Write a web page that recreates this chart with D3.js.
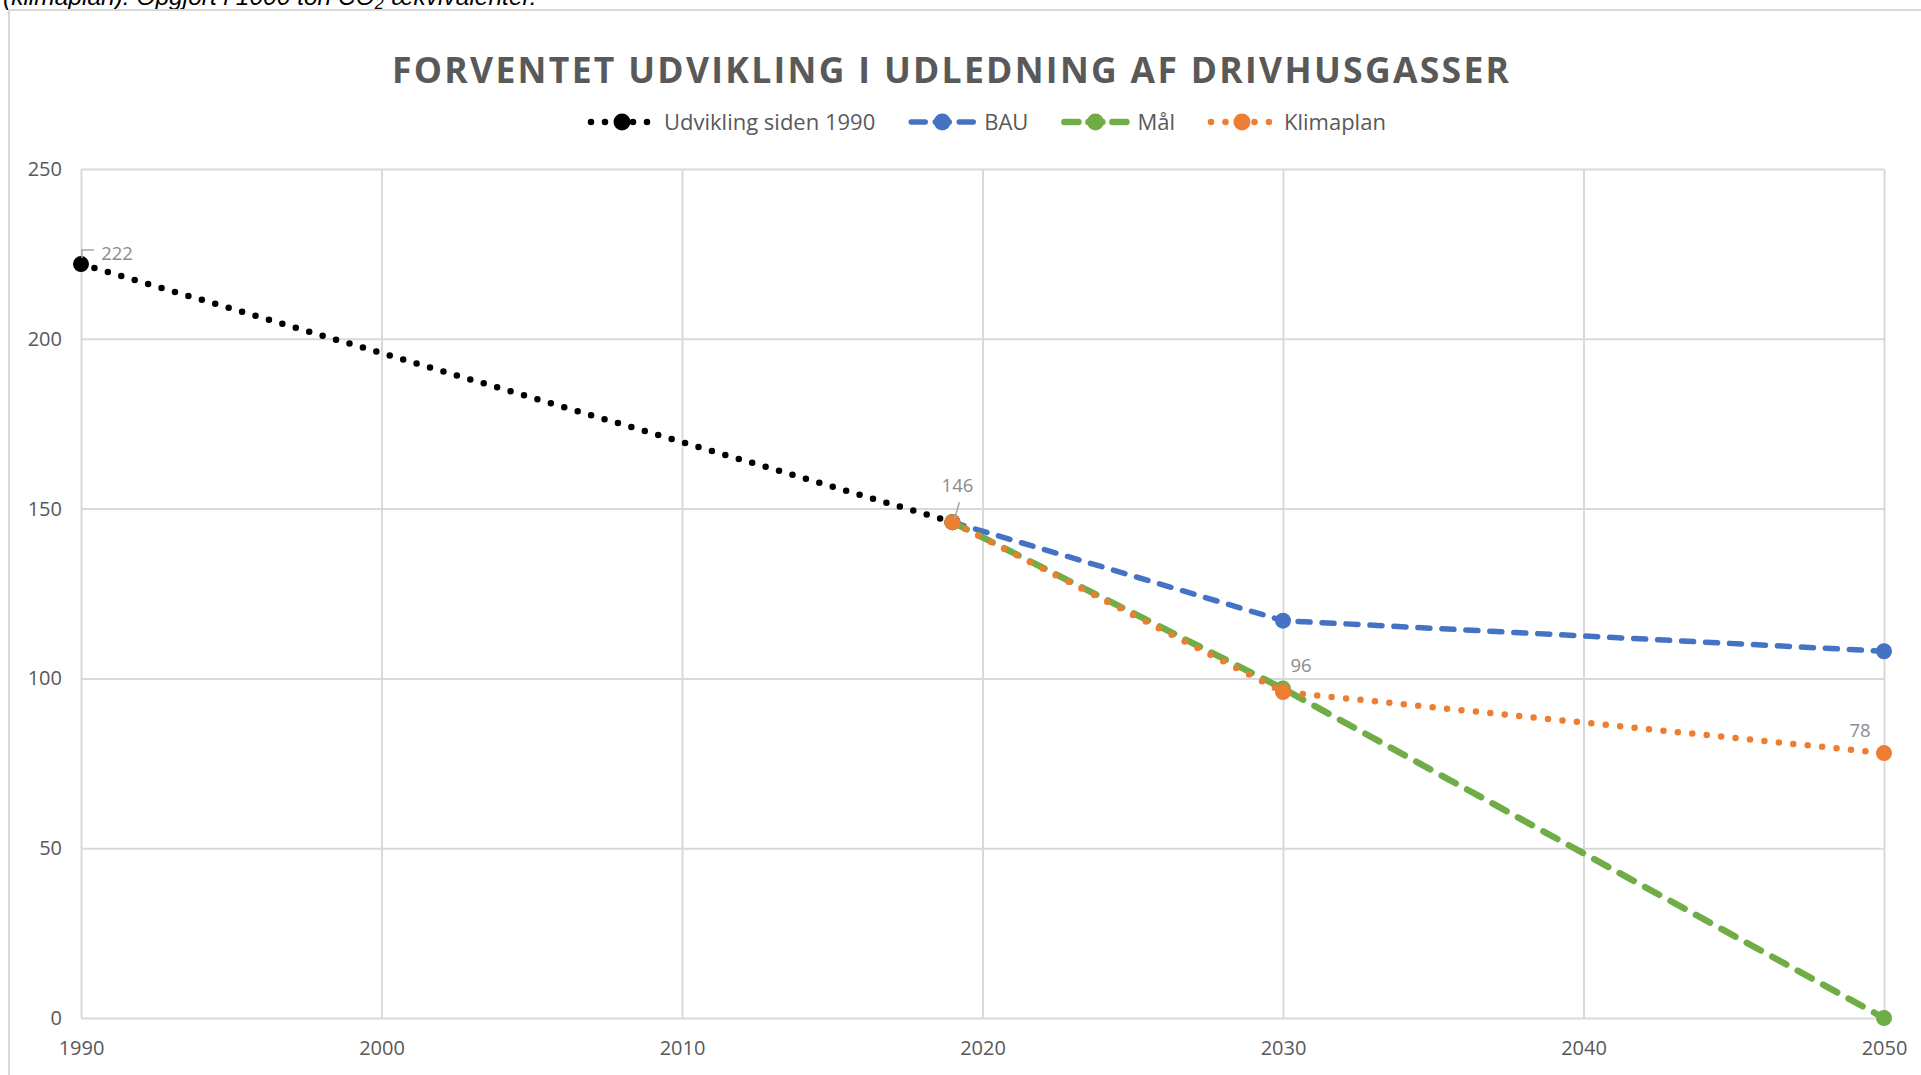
<!DOCTYPE html>
<html>
<head>
<meta charset="utf-8">
<script src="https://cdn.jsdelivr.net/npm/d3@7"></script>
<style>
    body { margin: 0; background: #ffffff; overflow: hidden; }
    svg { display: block; }
</style>
</head>
<body>
<svg id="body" width="1921" height="1075"></svg>
<script>
// Data
let seriesNames = ['Udvikling siden 1990', 'BAU', 'Mål', 'Klimaplan']

let udviklingYears = [1990, 2019]
let udviklingValues = [222, 146]

let bauYears = [2019, 2030, 2050]
let bauValues = [146, 117, 108]

let maalYears = [2019, 2030, 2050]
let maalValues = [146, 97, 0]

let klimaplanYears = [2019, 2030, 2050]
let klimaplanValues = [146, 96, 78]

let xTicks = [1990, 2000, 2010, 2020, 2030, 2040, 2050]
let yTicks = [0, 50, 100, 150, 200, 250]

let titleText = 'FORVENTET UDVIKLING I UDLEDNING AF DRIVHUSGASSER'

function drawChart(){
    let svg = d3.select('#body')

    // Load and transform data
    let series = [
        {'name': seriesNames[0], 'years': udviklingYears, 'values': udviklingValues, 'color': '#000000', 'dash': '0 14', 'width': 6.5},
        {'name': seriesNames[1], 'years': bauYears, 'values': bauValues, 'color': '#4472C4', 'dash': '12 12', 'width': 5.5},
        {'name': seriesNames[2], 'years': maalYears, 'values': maalValues, 'color': '#70AD47', 'dash': '16 13', 'width': 6.5},
        {'name': seriesNames[3], 'years': klimaplanYears, 'values': klimaplanValues, 'color': '#ED7D31', 'dash': '0 14.5', 'width': 6.5}
    ].map((s) => {return {...s, 'points': s.years.map((y, i) => {return {'year': y, 'value': s.values[i]}})}})

    // Compute layout
    let xScale = d3.scaleLinear([1990, 2050], [81, 1884])
    let yScale = d3.scaleLinear([0, 250], [1018, 169])

    // caption cut off at the top of the page + chart frame
    svg.append('text')
        .attr('x', 3).attr('y', 5)
        .attr('font-family', 'Liberation Sans, Arial, sans-serif')
        .attr('font-style', 'italic')
        .attr('font-size', 24.5)
        .attr('fill', '#000')
        .call((t) => {
            t.append('tspan').text('(klimaplan). Opgjort i 1000 ton CO')
            t.append('tspan').attr('font-size', 16).attr('dy', 4).text('2')
            t.append('tspan').attr('dy', -4).text('-ækvivalenter.')
        })

    svg.append('path')
        .attr('d', 'M9,1075 V10 H1921')
        .attr('fill', 'none')
        .attr('stroke', '#d9d9d9')
        .attr('stroke-width', 2)

    // Axes / grid
    let yAxis = d3.axisLeft(yScale).tickValues(yTicks).tickSize(-(xScale(2050) - xScale(1990))).tickPadding(19)
    let xAxis = d3.axisBottom(xScale).tickValues(xTicks).tickFormat(d3.format('d')).tickSize(-(yScale(0) - yScale(250))).tickPadding(23)

    let gy = svg.append('g').attr('transform', `translate(${xScale(1990)},0)`).call(yAxis)
    let gx = svg.append('g').attr('transform', `translate(0,${yScale(0)})`).call(xAxis)

    for (let g of [gx, gy]){
        g.select('.domain').remove()
        g.selectAll('line').attr('stroke', '#d9d9d9').attr('stroke-width', 2)
        g.selectAll('text')
            .attr('fill', '#595959')
            .attr('font-family', 'Open Sans, sans-serif')
            .attr('font-size', 20)
    }

    // Title
    svg.append('text')
        .attr('x', 392).attr('y', 83)
        .attr('textLength', 1117)
        .attr('lengthAdjust', 'spacing')
        .attr('font-family', 'Open Sans, sans-serif')
        .attr('font-weight', 'bold')
        .attr('font-size', 35.5)
        .attr('fill', '#595959')
        .text(titleText)

    // Legend
    let legendX = 588
    let legendY = 122
    series.forEach((s) => {
        let g = svg.append('g').attr('transform', `translate(${legendX},${legendY})`)
        g.append('line')
            .attr('x1', 3).attr('x2', 66)
            .attr('stroke', s.color)
            .attr('stroke-width', s.width)
            .attr('stroke-dasharray', s.dash.startsWith('0') ? s.dash : '14 10')
            .attr('stroke-linecap', 'round')
        g.append('circle').attr('cx', 34).attr('r', 8.5).attr('fill', s.color)
        let t = g.append('text')
            .attr('x', 76).attr('y', 8)
            .attr('font-family', 'Open Sans, sans-serif')
            .attr('font-size', 22)
            .attr('fill', '#595959')
            .text(s.name)
        legendX += 76 + t.node().getComputedTextLength() + 33
    })

    // Draw visualization
    let line = d3.line().x((d) => {return xScale(d.year)}).y((d) => {return yScale(d.value)})

    let seriesJoin = svg.append('g').selectAll('g').data(series).join('g')

    seriesJoin.append('path')
        .attr('d', (d) => {return line(d.points)})
        .attr('fill', 'none')
        .attr('stroke', (d) => {return d.color})
        .attr('stroke-width', (d) => {return d.width})
        .attr('stroke-dasharray', (d) => {return d.dash})
        .attr('stroke-linecap', 'round')

    seriesJoin.selectAll('circle')
        .data((d) => {return d.points.map((p) => {return {...p, 'color': d.color}})})
        .join('circle')
        .attr('cx', (d) => {return xScale(d.year)})
        .attr('cy', (d) => {return yScale(d.value)})
        .attr('r', 8)
        .attr('fill', (d) => {return d.color})

    // Data labels
    let labels = [
        {'s': 0, 'i': 0, 'dx': 36, 'dy': -11, 'leader': [[1, -6], [1, -14], [13, -14]]},
        {'s': 0, 'i': 1, 'dx': 5, 'dy': -37, 'leader': [[7, -20], [2, -3]]},
        {'s': 3, 'i': 1, 'dx': 18, 'dy': -26, 'leader': null},
        {'s': 3, 'i': 2, 'dx': -24, 'dy': -23, 'leader': null}
    ]

    labels.forEach((l) => {
        let p = series[l.s].points[l.i]
        let px = xScale(p.year)
        let py = yScale(p.value)
        if (l.leader){
            svg.append('path')
                .attr('d', d3.line()(l.leader.map((c) => {return [px + c[0], py + c[1]]})))
                .attr('fill', 'none')
                .attr('stroke', '#a6a6a6')
                .attr('stroke-width', 1.5)
        }
        svg.append('text')
            .attr('x', px + l.dx).attr('y', py + l.dy)
            .attr('dy', '0.35em')
            .attr('text-anchor', 'middle')
            .attr('font-family', 'Open Sans, sans-serif')
            .attr('font-size', 18.5)
            .attr('fill', '#8c8c8c')
            .text(p.value)
    })
}

drawChart()
</script>
</body>
</html>
